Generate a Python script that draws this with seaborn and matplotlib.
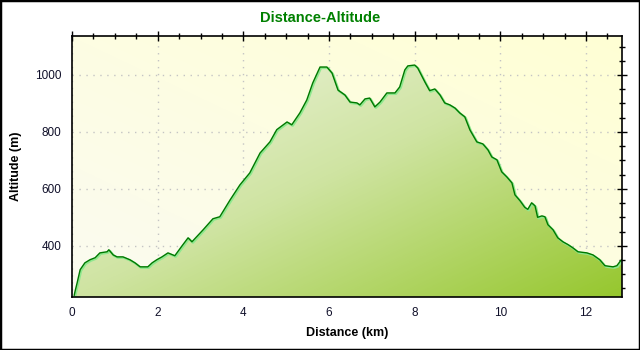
import numpy as np
import pandas as pd
import matplotlib
matplotlib.use("Agg")
import matplotlib.pyplot as plt
import matplotlib.transforms as mtransforms
from matplotlib.colors import LinearSegmentedColormap
from matplotlib.patches import Rectangle
from matplotlib.ticker import MultipleLocator
import seaborn as sns

# ---- data ----
distance_km = [0.05, 0.07, 0.12, 0.19, 0.30, 0.42, 0.54, 0.65, 0.82, 0.86, 0.96, 1.05,
               1.19, 1.35, 1.47, 1.59, 1.77, 1.87, 1.98, 2.10, 2.24, 2.40, 2.57, 2.71,
               2.80, 3.06, 3.29, 3.45, 3.69, 3.92, 4.15, 4.39, 4.62, 4.78, 5.02, 5.13,
               5.32, 5.48, 5.62, 5.79, 5.95, 6.07, 6.21, 6.37, 6.49, 6.65, 6.72, 6.84,
               6.95, 7.07, 7.19, 7.35, 7.54, 7.65, 7.77, 7.84, 8.00, 8.07, 8.24, 8.35,
               8.47, 8.59, 8.70, 8.82, 8.94, 9.05, 9.17, 9.29, 9.45, 9.59, 9.71, 9.80,
               9.92, 10.03, 10.15, 10.27, 10.34, 10.46, 10.57, 10.64, 10.73, 10.81,
               10.87, 10.97, 11.04, 11.11, 11.23, 11.34, 11.46, 11.58, 11.69, 11.81,
               12.02, 12.16, 12.32, 12.44, 12.63, 12.72, 12.79, 12.84]
altitude_m = [225, 239, 270, 316, 340, 351, 358, 375, 379, 386, 368, 361,
              361, 351, 340, 326, 326, 340, 351, 361, 375, 365, 400, 428,
              414, 456, 495, 502, 561, 614, 656, 726, 765, 808, 835, 825,
              867, 912, 972, 1028, 1028, 1007, 947, 930, 905, 902, 895, 916,
              919, 888, 905, 937, 937, 958, 1018, 1032, 1035, 1025, 975, 945,
              951, 930, 902, 895, 884, 867, 853, 807, 765, 758, 737, 712,
              702, 660, 642, 621, 579, 558, 535, 528, 551, 540,
              500, 505, 502, 474, 456, 428, 414, 404, 393, 379,
              375, 368, 351, 330, 326, 330, 344, 352]
x_ticks = [0, 2, 4, 6, 8, 10, 12]
y_ticks = [400, 600, 800, 1000]
title_text = "Distance-Altitude"
x_label = "Distance (km)"
y_label = "Altitude (m)"

df = pd.DataFrame({"distance": distance_km, "altitude": altitude_m})

sns.set_style("white")
plt.rcParams['font.family'] = ['Liberation Sans', 'DejaVu Sans']

fig = plt.figure(figsize=(6.4, 3.5), dpi=100)
ax = fig.add_axes([72 / 640, 1 - 297 / 350, 550 / 640, 261 / 350])
xmin, xmax = 0, 12.84
ymin, ymax = 220, 1137
ax.set_xlim(xmin, xmax)
ax.set_ylim(ymin, ymax)
ax.patch.set_visible(False)

# background gradient (bottom-left pale -> top-right yellow)
n = 200
xx, yy = np.meshgrid(np.linspace(0, 1, n), np.linspace(0, 1, n))
bg_cmap = LinearSegmentedColormap.from_list('bg', ['#fbfbf1', '#ffffd4'])
ax.imshow((xx + yy) / 2, cmap=bg_cmap, origin='lower', aspect='auto',
          extent=[xmin, xmax, ymin, ymax], zorder=0, interpolation='bilinear')

# grid
ax.set_axisbelow(True)
ax.grid(True, which='major', color='#c4c4c4', linestyle=(0, (1, 4)), linewidth=1)

# gradient fill under the profile
poly = ax.fill_between(df["distance"], df["altitude"], ymin, color='none', zorder=1)
fill_cmap = LinearSegmentedColormap.from_list('fill', ['#f4f7ea', '#cfe4a2', '#96c72e'])
im = ax.imshow((xx + (1 - yy)) / 2, cmap=fill_cmap, origin='lower', aspect='auto',
               extent=[xmin, xmax, ymin, ymax], zorder=1.5, interpolation='bilinear')
im.set_clip_path(poly.get_paths()[0], transform=ax.transData)

# profile line: light green shadow + dark green line
sns.lineplot(data=df, x="distance", y="altitude", ax=ax, color='#8ee88e',
             linewidth=1.6, zorder=2)
shadow = ax.get_lines()[-1]
shadow.set_transform(ax.transData + mtransforms.ScaledTranslation(1 / 100, -1 / 100, fig.dpi_scale_trans))
sns.lineplot(data=df, x="distance", y="altitude", ax=ax, color='#007800',
             linewidth=1.0, zorder=3)

ax.set_xlim(xmin, xmax)
ax.set_ylim(ymin, ymax)
ax.set_xlabel("")
ax.set_ylabel("")

# ticks
ax.set_xticks(x_ticks)
ax.set_yticks(y_ticks)
ax.xaxis.set_minor_locator(MultipleLocator(0.5))
ax.yaxis.set_minor_locator(MultipleLocator(50))
ax.tick_params(which='both', direction='inout', top=True, right=True,
               color='black', width=1, labelsize=8.5, labelcolor='#10102a')
ax.tick_params(which='major', length=7, pad=4)
ax.tick_params(which='minor', length=4)
for s in ax.spines.values():
    s.set_color('black')
    s.set_linewidth(1.2)
    s.set_zorder(5)

# texts
fig.text(320 / 640, 1 - 18 / 350, title_text, ha='center', va='center',
         fontsize=10.5, fontweight='bold', color='#008000')
fig.text(347 / 640, 1 - 333 / 350, x_label, ha='center', va='center',
         fontsize=9, fontweight='bold', color='black')
fig.text(16 / 640, 1 - 166 / 350, y_label, ha='center', va='center',
         rotation=90, fontsize=9, fontweight='bold', color='black')

# outer frame
fig.patches.append(Rectangle((0, 0), 1, 1, transform=fig.transFigure, fill=False,
                             edgecolor='black', linewidth=2.5))

fig.savefig("out.png", dpi=100)
